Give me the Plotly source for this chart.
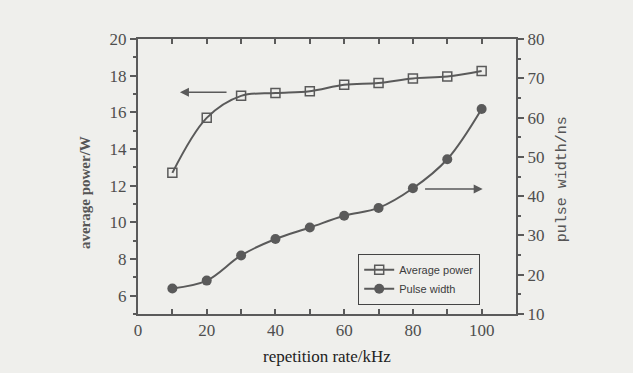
import plotly.graph_objects as go

rate_khz = [10, 20, 30, 40, 50, 60, 70, 80, 90, 100]
avg_power_w = [12.7, 15.7, 16.9, 17.05, 17.15, 17.5, 17.6, 17.85, 17.95, 18.25]
pulse_width_ns = [16.5, 18.5, 24.9, 29.1, 32.0, 35.0, 37.0, 42.0, 49.4, 62.2]

x_ticks = [0, 20, 40, 60, 80, 100]

ink = "#5a5a5a"
bg = "#efefec"
serif = "Liberation Serif, Times New Roman, serif"
tickc = "#4e4e4e"

fig = go.Figure()
fig.add_trace(go.Scatter(
    x=rate_khz, y=avg_power_w, name="Average power",
    mode="lines+markers", line=dict(color=ink, width=2, shape="spline", smoothing=1.0),
    marker=dict(symbol="square-open", size=9, color=ink, line=dict(width=1.5, color=ink)),
    yaxis="y",
))
fig.add_trace(go.Scatter(
    x=rate_khz, y=pulse_width_ns, name="Pulse width",
    mode="lines+markers", line=dict(color=ink, width=2, shape="spline", smoothing=1.0),
    marker=dict(symbol="circle", size=10, color=ink),
    yaxis="y2",
))

fig.update_layout(
    width=633, height=373,
    margin=dict(l=138, r=117, t=39, b=59),
    paper_bgcolor=bg, plot_bgcolor=bg,
    font=dict(family=serif, size=15, color=tickc),
    showlegend=True,
    legend=dict(
        x=0.582, y=0.218, xanchor="left", yanchor="top",
        bgcolor=bg, bordercolor="#444444", borderwidth=1.2,
        font=dict(family="Liberation Sans, Arial, sans-serif", size=11, color="#3c3c3c"),
        tracegroupgap=0, itemwidth=30,
    ),
    xaxis=dict(
        range=[0, 110], tickvals=x_ticks, ticks="inside", ticklen=5, tickwidth=1.5,
        tickcolor=ink, showline=True, linecolor=ink, linewidth=2, mirror="allticks",
        minor=dict(dtick=10, tick0=0, ticks="inside", ticklen=3, tickcolor=ink),
        showgrid=False, zeroline=False,
        tickfont=dict(family=serif, size=17, color=tickc),
    ),
    yaxis=dict(
        range=[5, 20], tick0=0, dtick=2, ticks="outside", ticklen=6, tickwidth=1.5,
        tickcolor=ink, showline=True, linecolor=ink, linewidth=2,
        minor=dict(dtick=1, tick0=0, ticks="outside", ticklen=3, tickcolor=ink),
        showgrid=False, zeroline=False,
        tickfont=dict(family=serif, size=17, color=tickc),
    ),
    yaxis2=dict(
        range=[10, 80], dtick=10, tick0=0, overlaying="y", side="right",
        ticks="outside", ticklen=6, tickwidth=1.5, tickcolor=ink,
        showline=True, linecolor=ink, linewidth=2,
        minor=dict(dtick=5, tick0=0, ticks="outside", ticklen=3, tickcolor=ink),
        showgrid=False, zeroline=False,
        tickfont=dict(family=serif, size=17, color=tickc),
    ),
)

# axis titles as annotations
fig.add_annotation(text="<b>average power/W</b>", xref="paper", yref="paper",
                   x=-0.140, y=0.44, xanchor="center", yanchor="middle", textangle=-90, showarrow=False,
                   font=dict(family=serif, size=15, color="#555555"))
fig.add_annotation(text="pulse width/ns", xref="paper", yref="paper",
                   x=1.122, y=0.49, xanchor="center", yanchor="middle", textangle=-90, showarrow=False,
                   font=dict(family="Liberation Mono, Courier New, monospace", size=15, color="#555555"))
fig.add_annotation(text="repetition rate/kHz", xref="paper", yref="paper",
                   x=0.5, y=-0.156, yanchor="middle", showarrow=False,
                   font=dict(family=serif, size=17, color="#222222"))

# direction arrows
fig.add_annotation(x=12.2, y=17.1, ax=26.2, ay=17.1, xref="x", yref="y", axref="x", ayref="y",
                   showarrow=True, arrowhead=2, arrowsize=1.2, arrowwidth=1.5, arrowcolor=ink, text="")
fig.add_annotation(x=100.3, y=41.8, ax=83.1, ay=41.8, xref="x", yref="y2", axref="x", ayref="y2",
                   showarrow=True, arrowhead=2, arrowsize=1.2, arrowwidth=1.5, arrowcolor=ink, text="")

fig.write_html("out.html")
